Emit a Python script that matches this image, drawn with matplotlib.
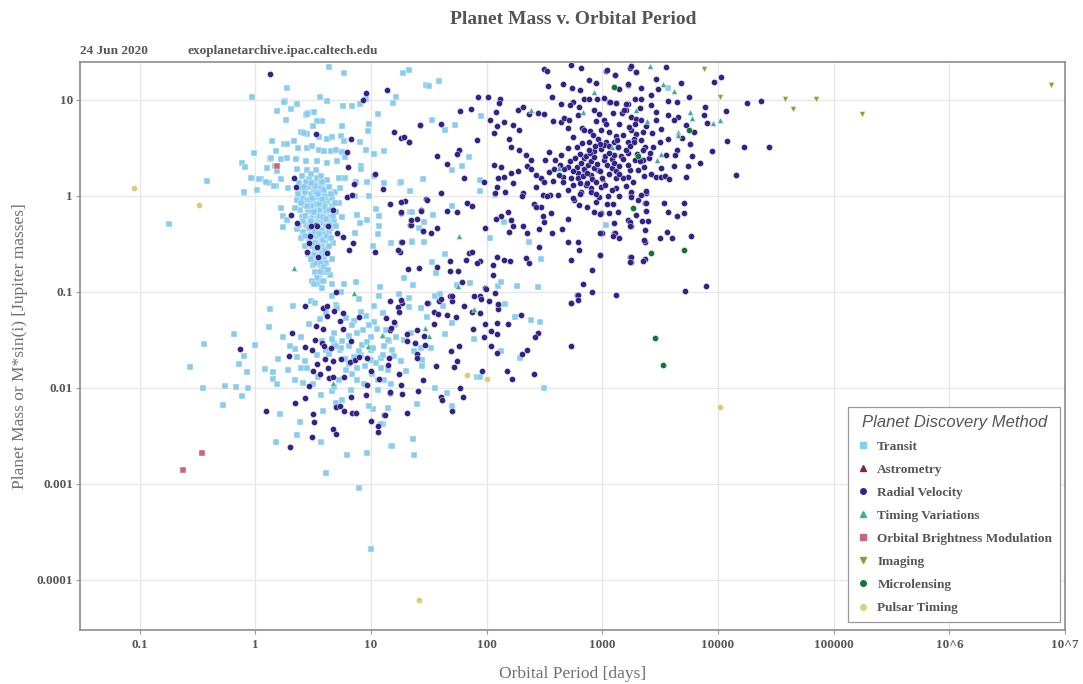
import matplotlib
matplotlib.use("Agg")
import matplotlib.pyplot as plt
from matplotlib.lines import Line2D

# (orbital period [days], mass [Jupiter masses])
transit = [
    (4.3, 22.2), (5.8, 19.2), (19, 19), (21.4, 20.5), (30, 14.3), (1.89, 13.2), (0.94, 10.7),
    (3.6, 10.7), (4.2, 9.8), (1.8, 9.8), (2.27, 9.1), (2.02, 8.1), (1.53, 7.7), (5.7, 8.7),
    (6.9, 8.7), (8.0, 9.0), (9.0, 10.2), (16.5, 10.7), (15.5, 9.2), (11.6, 7.2), (3.2, 7.4),
    (2.86, 7.3), (2.76, 7.0), (1.83, 6.2), (3.8, 6.0), (3.4, 6.0), (3.16, 5.4), (5.66, 5.3),
    (9.7, 5.6), (9.4, 4.75), (2.5, 4.57), (2.8, 4.4), (3.55, 4.1), (4.2, 3.9), (4.6, 4.1),
    (5.5, 4.2), (5.85, 3.7), (2.16, 3.7), (1.77, 3.5), (1.89, 3.5), (1.38, 3.7), (2.36, 3.18),
    (2.8, 3.18), (3.1, 3.3), (3.55, 3.0), (3.9, 2.96), (4.5, 2.96), (5.0, 3.0), (5.66, 2.83),
    (8.0, 3.6), (9.0, 3.0), (10.6, 2.7), (13.0, 2.9), (1.5, 2.96), (0.97, 2.78), (0.76, 2.22),
    (0.82, 1.99), (1.33, 2.4), (1.48, 2.05), (1.68, 2.43), (1.86, 2.5), (2.23, 2.4), (2.73, 2.3),
    (3.44, 2.28), (4.2, 2.19), (5.1, 2.3), (6.0, 2.56), (8.15, 2.05), (1.27, 1.94), (1.55, 1.82),
    (2.28, 1.91), (2.8, 1.84), (3.33, 1.87), (0.94, 1.53), (1.11, 1.49), (1.31, 1.36), (1.5, 1.27),
    (1.66, 1.49), (0.79, 1.08), (1.03, 1.14), (1.93, 1.2), (2.39, 1.36), (2.8, 1.3), (3.44, 1.36),
    (3.8, 1.27), (5.3, 1.53), (5.93, 1.53), (7.4, 1.38), (8.15, 1.9), (9.3, 1.38), (10.6, 1.6),
    (13, 1.36), (17.9, 1.36), (21.8, 1.13), (7.3, 1.0), (9.7, 1.0), (11, 0.73), (7.55, 0.63),
    (8.05, 0.52), (9.3, 0.56), (11.8, 0.49), (21.8, 0.686), (28.9, 0.54), (26, 0.46), (22.5, 0.34),
    (28.9, 0.33), (15, 0.32), (11.4, 0.4), (10.4, 0.3), (7.3, 0.415), (11.8, 0.61), (1.66, 0.755),
    (1.75, 0.47), (2.28, 0.45), (1.75, 0.61), (1.87, 0.56), (1.77, 9.6), (2.04, 8.1), (2.82, 7.1),
    (2.64, 4.5), (1.4, 3.77), (0.77, 2.19), (0.82, 2.02), (1.36, 2.47), (0.91, 1.53), (1.08, 1.49),
    (0.8, 1.09), (1.23, 1.38), (1.45, 1.27), (0.18, 0.51), (0.38, 1.43),
    # hot Jupiter clump
    (2.5, 1.2), (2.6, 0.95), (2.7, 1.1), (2.8, 0.9), (2.9, 1.25), (3.0, 1.05), (3.1, 0.85),
    (3.2, 1.15), (3.3, 0.95), (3.4, 0.75), (3.5, 1.3), (3.6, 0.9), (3.7, 1.05), (3.8, 0.8),
    (3.9, 0.65), (4.0, 1.0), (4.1, 0.7), (4.2, 0.88), (4.4, 0.6), (4.6, 0.78), (4.8, 0.55),
    (5.0, 0.68), (2.45, 0.72), (2.55, 0.6), (2.65, 0.8), (2.75, 0.5), (2.85, 0.68), (2.95, 0.58),
    (3.05, 0.7), (3.15, 0.62), (3.25, 0.52), (3.35, 0.66), (3.45, 0.58), (3.55, 0.48), (3.65, 0.56),
    (3.75, 0.44), (3.85, 0.52), (3.95, 0.4), (4.05, 0.5), (4.3, 0.42), (4.5, 0.46), (3.0, 0.4),
    (3.2, 0.36), (3.4, 0.38), (3.6, 0.33), (3.8, 0.3), (4.0, 0.34), (3.3, 0.28), (3.5, 0.25),
    (3.7, 0.27), (3.9, 0.22), (4.2, 0.26), (3.1, 0.3), (2.9, 0.34), (3.45, 0.21), (3.6, 0.19),
    (3.8, 0.17), (4.1, 0.2), (3.3, 0.16), (3.55, 0.14), (3.9, 0.13), (4.4, 0.15), (3.2, 1.4),
    (3.4, 1.55), (2.9, 1.5), (3.6, 1.2), (3.9, 1.15), (4.3, 1.25), (4.6, 0.95), (2.3, 0.9),
    (2.2, 0.75), (2.35, 1.05), (5.3, 0.85), (5.6, 0.6), (5.2, 0.4), (4.7, 0.32), (2.6, 0.42),
    (2.7, 0.3), (2.5, 0.36), (3.25, 0.82), (3.5, 0.62), (3.15, 0.45), (3.75, 0.36), (4.25, 0.55),
    (2.95, 0.9), (3.65, 0.72), (4.9, 1.1), (2.4, 1.35), (3.05, 1.7), (3.7, 1.6), (4.15, 1.45),
    (3.35, 0.24), (3.7, 0.2), (3.15, 0.19), (4.0, 0.16), (3.45, 0.12), (4.6, 0.22), (2.85, 0.25),
    (2.6, 0.55), (2.4, 0.5), (5.4, 1.2), (4.5, 1.05), (3.95, 0.85), (2.75, 1.4), (2.55, 1.6),
    (3.0, 0.78), (3.1, 0.95), (3.35, 1.1), (3.55, 0.82), (3.75, 0.92), (4.0, 0.76), (4.35, 0.72),
    (3.2, 0.68), (3.4, 0.5), (3.6, 0.62), (3.85, 0.6), (4.1, 0.58), (4.4, 0.5), (3.0, 0.55),
    (3.3, 0.42), (3.55, 0.4), (3.85, 0.35), (4.15, 0.38), (4.5, 0.36), (3.05, 0.34), (3.3, 0.32),
    (3.5, 0.3), (3.75, 0.25), (4.0, 0.27), (4.3, 0.3), (3.2, 0.24), (3.55, 0.23), (3.25, 0.2),
    (3.9, 0.18), (3.6, 0.16), (4.25, 0.17), (3.4, 0.14), (3.75, 0.11), (4.6, 0.12), (3.1, 0.13),
    (2.7, 0.62), (2.8, 0.78), (2.5, 0.85), (2.65, 1.25), (3.5, 1.05), (3.25, 1.28), (4.7, 0.62),
    (5.0, 0.48), (4.85, 0.85), (2.9, 0.46), (2.7, 0.38), (3.05, 0.22), (3.0, 1.35), (3.8, 1.4),
    # lower group
    (3.22, 0.121), (3.88, 0.13), (5.86, 0.121), (7.4, 0.126), (11.9, 0.112), (11.8, 0.09),
    (7.9, 0.084), (4.64, 0.091), (5.5, 0.1), (3.0, 0.081), (3.26, 0.077), (2.12, 0.0717),
    (1.34, 0.066), (4.06, 0.06), (4.96, 0.073), (5.12, 0.068), (10.6, 0.072), (6.05, 0.053),
    (7.15, 0.05), (9.0, 0.056), (10.6, 0.049), (0.66, 0.036), (1.0, 0.028), (2.5, 0.034),
    (4.8, 0.037), (3.75, 0.031), (5.6, 0.0305), (4.8, 0.029), (6.45, 0.0276), (5.4, 0.0245),
    (4.06, 0.025), (3.44, 0.0218), (2.2, 0.0255), (2.31, 0.0208), (2.67, 0.019), (1.58, 0.0198),
    (2.47, 0.0161), (2.82, 0.0161), (0.8, 0.0216), (0.72, 0.0178), (0.84, 0.0147), (1.21, 0.0156),
    (1.41, 0.0147), (1.43, 0.0124), (1.55, 0.0109), (0.355, 0.01), (0.675, 0.0101), (0.86, 0.01),
    (0.77, 0.0083), (0.52, 0.0067), (2.6, 0.0112), (3.18, 0.0109), (3.72, 0.0084), (3.88, 0.0058),
    (1.64, 0.0053), (2.44, 0.0044), (2.27, 0.0032), (1.52, 0.0027), (3.68, 0.0027), (4.06, 0.0013),
    (6.17, 0.002), (9.3, 0.0021), (7.9, 0.00091), (15, 0.0025), (13.9, 0.0062), (12.6, 0.0042),
    (10.3, 0.006), (4.96, 0.007), (5.66, 0.0075), (4.64, 0.0092), (4.8, 0.0103), (9.7, 0.0065),
    (9.9, 0.0196), (11, 0.018), (14, 0.0154), (11.4, 0.0121), (13, 0.0121), (7.55, 0.0121),
    (6.8, 0.014), (6.1, 0.0154), (6.45, 0.0178), (7.15, 0.021), (8.15, 0.0218), (9.9, 0.0245),
    (12.1, 0.0205), (14.3, 0.031), (15.3, 0.025), (9.9, 0.034), (11.2, 0.041), (8.6, 0.04),
    (7.55, 0.037), (5.5, 0.026), (4.35, 0.0226), (4.64, 0.032), (5.0, 0.0275), (0.27, 0.0164),
    (0.36, 0.0285), (0.55, 0.0105), (10, 0.00021),
    (8.3, 0.028), (9.2, 0.03), (10.5, 0.026), (12.8, 0.022), (8.8, 0.017), (10.2, 0.014),
    (12.2, 0.016), (7.9, 0.024), (6.9, 0.045), (8.2, 0.062), (9.6, 0.045), (12.6, 0.06),
    (13.5, 0.04), (16.2, 0.045), (6.4, 0.035), (5.9, 0.02), (7.6, 0.016), (8.7, 0.011),
    (11.5, 0.0095), (14.8, 0.011), (6.7, 0.0095), (5.3, 0.012), (3.5, 0.013), (2.2, 0.012),
    (1.9, 0.0155), (2.0, 0.027), (1.75, 0.034), (1.3, 0.043), (2.9, 0.046), (3.6, 0.052),
    (11.9, 0.112), (23.2, 0.118), (17.5, 0.095), (21.2, 0.086), (21.3, 0.07), (55, 0.118),
    (71.5, 0.125), (125, 0.116), (133, 0.128), (183, 0.116), (276, 0.112), (35.8, 0.091),
    (39.4, 0.095), (42, 0.072), (27, 0.068), (30.7, 0.055), (50.5, 0.047), (44, 0.036),
    (22, 0.0375), (19.4, 0.0316), (16.4, 0.034), (13.9, 0.0316), (13, 0.027), (27, 0.026),
    (32.7, 0.026), (23.7, 0.024), (15.9, 0.0216), (18, 0.019), (27.5, 0.0196), (27.8, 0.0167),
    (20, 0.015), (82, 0.013), (87, 0.013), (78, 0.032), (133, 0.024), (195, 0.0205), (244, 0.051),
    (291, 0.048), (177, 0.0545), (145, 0.074), (35.8, 0.0099), (45, 0.0089), (50, 0.0064),
    (24.9, 0.0068), (13.9, 0.0062), (12.3, 0.0042), (15.3, 0.0025), (23.2, 0.0029), (23.4, 0.002),
    (310, 0.01),
    # longer periods
    (31.8, 14), (38.9, 15.8), (89, 6.8), (33.9, 6.1), (43.6, 4.8), (53, 5.5), (71, 2.53),
    (61, 2.05), (50.5, 1.87), (28.4, 1.5), (88, 1.47), (88, 1.13), (117, 1.02), (49.8, 0.79),
    (34.6, 0.634), (18, 1.38), (22.5, 0.686), (22.5, 0.334), (33.5, 0.204), (36.5, 0.159),
    (43.6, 0.249), (72, 0.125), (55, 0.118), (19.4, 0.139), (107, 0.36), (142, 0.54),
    (232, 0.334), (297, 0.22), (3710, 13.2), (1080, 0.5),
]

astrometry = [(1016, 1.5)]

radial_velocity = [
    (1.34, 18.7), (9.1, 11.8), (8.5, 10), (13.7, 12.7), (26.6, 5.5), (15.9, 4.6), (18.3, 4.05),
    (21.5, 3.6), (3.33, 4.4), (6.7, 3.95), (6.17, 2.83), (6.35, 1.99), (7.15, 1.32), (10.8, 1.68),
    (12.7, 1.17), (14.6, 0.825), (19.6, 0.89), (18.1, 0.67), (27, 0.715), (30, 0.92), (21.8, 0.5),
    (24.8, 0.57), (28.2, 0.435), (18.3, 0.334), (17.9, 0.263), (10.9, 0.263), (7.05, 0.326),
    (6.45, 0.274), (6.17, 0.98), (6.9, 1.02), (2.16, 1.53), (2.23, 1.23), (2.02, 0.634),
    (2.27, 0.52), (3.33, 0.5), (4.26, 0.487), (5.12, 0.41), (5.77, 0.377), (4.73, 0.715),
    (2.97, 0.383), (2.91, 0.326), (2.82, 0.257), (3.44, 0.292), (4.2, 0.253), (3.49, 0.233),
    (3.0, 0.49), (3.4, 0.48),
    # lower group
    (2.67, 0.0717), (2.06, 0.0375), (3.88, 0.068), (4.15, 0.0717), (4.97, 0.1), (4.2, 0.056),
    (4.8, 0.063), (5.4, 0.05), (5.74, 0.06), (3.35, 0.044), (3.85, 0.0412), (5.7, 0.0412),
    (7.9, 0.0545), (6.7, 0.0305), (3.28, 0.0316), (3.8, 0.0292), (2.67, 0.0264), (3.07, 0.025),
    (3.93, 0.0273), (4.5, 0.026), (1.96, 0.0213), (0.74, 0.0255), (3.4, 0.0178), (3.98, 0.02),
    (4.7, 0.019), (5.5, 0.0198), (6.6, 0.0184), (7.25, 0.0196), (7.9, 0.0208), (9.2, 0.0205),
    (3.16, 0.015), (3.63, 0.014), (4.27, 0.016), (4.37, 0.0127), (4.73, 0.013), (5.86, 0.013),
    (2.91, 0.0105), (2.67, 0.0078), (2.19, 0.007), (1.23, 0.0057), (3.18, 0.0053), (3.22, 0.0044),
    (3.07, 0.0031), (1.98, 0.0024), (4.73, 0.0037), (4.96, 0.0033), (4.96, 0.0063), (5.37, 0.0064),
    (5.86, 0.0058), (6.8, 0.0055), (7.4, 0.0055), (9.0, 0.0085), (6.7, 0.0081), (9.2, 0.0107),
    (10, 0.0045), (11.4, 0.004), (11.6, 0.0035), (13, 0.0052), (14.7, 0.0088), (11.8, 0.0123),
    (10, 0.0148), (13.9, 0.0174), (14.3, 0.0205), (14.7, 0.04), (14.6, 0.081),
    (97, 0.109), (119, 0.098), (88, 0.091), (104, 0.08), (125, 0.073), (125, 0.066), (75, 0.062),
    (88, 0.06), (48.6, 0.091), (49.8, 0.081), (38.5, 0.08), (31.2, 0.076), (18.7, 0.077),
    (17.1, 0.07), (64, 0.072), (35.3, 0.062), (38, 0.0585), (45.7, 0.058), (54, 0.055),
    (17.3, 0.061), (13.4, 0.053), (15.9, 0.049), (15, 0.042), (20.6, 0.036), (25.2, 0.04),
    (28.9, 0.035), (34.8, 0.0464), (76, 0.041), (97, 0.046), (109, 0.039), (122, 0.047),
    (152, 0.046), (122, 0.036), (199, 0.058), (276, 0.0375), (262, 0.034), (221, 0.0245),
    (200, 0.0226), (109, 0.0274), (122, 0.023), (95, 0.034), (58, 0.0276), (49, 0.0244),
    (55.7, 0.019), (52, 0.0164), (36.4, 0.017), (28.4, 0.0121), (24.9, 0.0226), (29, 0.028),
    (20.3, 0.0305), (24, 0.029), (25.2, 0.0205), (17.5, 0.0139), (18, 0.0107), (18.7, 0.0087),
    (14.7, 0.009), (13.1, 0.0052), (20.3, 0.0055), (25.6, 0.0092), (40, 0.008), (41.4, 0.0074),
    (50.5, 0.0058), (59, 0.01), (63, 0.008), (91, 0.015), (150, 0.015), (166, 0.0124),
    (259, 0.014), (540, 0.027), (540, 0.076), (605, 0.093),
    # main cloud
    (310, 21), (331, 20), (535, 22.8), (658, 21.4), (342, 14.1), (454, 14.5), (547, 13.4),
    (636, 12.7), (760, 16.1), (890, 14.9), (1080, 20.2), (1290, 18.2), (1720, 21.4), (1970, 19.7),
    (1670, 14.3), (84, 10.8), (103, 10.8), (130, 10.2), (127, 9.2), (58.5, 7.7), (73, 8.1),
    (120, 7.55), (107, 6.1), (122, 5.3), (142, 5.85), (115, 4.5), (155, 3.9), (168, 5.5),
    (190, 4.8), (186, 7.9), (205, 8.5), (230, 7.2), (276, 7.3), (310, 7.1), (368, 10.8), (372, 6.0),
    (438, 5.85), (468, 6.5), (510, 6.2), (610, 6.9), (690, 10.2), (774, 10.2), (895, 10.2),
    (436, 9.0), (560, 9.6), (520, 8.8), (626, 8.5), (855, 7.9), (940, 7.1), (1040, 6.2),
    (890, 5.95), (500, 5.1), (555, 4.15), (670, 5.15), (780, 4.7), (1150, 9.4), (1320, 9.2),
    (1230, 7.3), (1470, 7.3), (1650, 9.0), (1600, 7.9), (1780, 6.7), (1970, 6.3), (1780, 4.87),
    (1970, 4.4), (2230, 4.67), (1670, 3.67), (1080, 5.6), (910, 3.9), (980, 4.87), (1080, 3.67),
    (1320, 4.2), (1250, 3.67), (770, 3.67), (670, 3.55), (855, 2.9), (980, 3.06), (1040, 2.37),
    (1360, 3.2), (1450, 2.6), (1200, 2.4), (1670, 2.78), (1900, 2.37), (2250, 2.37), (2020, 1.87),
    (1670, 1.57), (2300, 1.6), (2400, 1.08), (1780, 1.02), (2020, 0.91), (2340, 0.84), (1670, 0.56),
    (1780, 0.48), (2340, 0.443), (2340, 0.334), (1720, 0.233), (1780, 0.207), (2340, 0.22),
    (1320, 0.093), (1000, 0.41), (1250, 0.415), (960, 0.243), (815, 0.167), (680, 0.121),
    (815, 0.1), (612, 0.093), (612, 0.083), (535, 0.076), (630, 0.274), (535, 0.216), (612, 0.334),
    (500, 0.334), (450, 0.45), (366, 0.41), (285, 0.45), (312, 0.53), (360, 0.66), (305, 0.62),
    (500, 0.57), (570, 0.91), (630, 0.81), (740, 0.76), (855, 0.686), (890, 0.87), (940, 0.98),
    (1100, 0.825), (980, 0.66), (660, 1.1), (790, 1.2), (500, 1.15), (411, 1.02), (350, 1.02),
    (305, 1.02), (258, 0.825), (297, 0.76), (348, 1.79), (297, 1.53), (268, 1.25), (375, 1.42),
    (454, 1.59), (500, 2.02), (612, 1.72), (700, 1.87), (790, 1.65), (910, 1.87), (390, 2.37),
    (438, 2.67), (500, 3.14), (600, 3.2), (700, 2.47), (348, 2.83), (320, 2.37), (240, 2.37),
    (218, 2.67), (190, 3.0), (163, 3.2), (222, 2.05), (240, 1.9), (268, 1.65), (316, 1.38),
    (186, 1.8), (162, 1.72), (142, 1.59), (125, 1.53), (134, 2.02), (115, 2.1), (122, 1.25),
    (117, 1.08), (144, 1.1), (168, 1.36), (205, 1.08), (202, 1.0), (265, 0.76), (330, 1.0),
    (152, 0.686), (162, 0.56), (168, 0.48), (205, 0.48), (133, 0.61), (120, 0.57), (97, 0.46),
    (157, 0.425), (225, 0.41), (285, 0.296), (218, 0.225), (230, 0.2), (160, 0.21), (122, 0.233),
    (113, 0.191), (88, 0.21), (71, 0.253), (75, 0.263), (83, 0.2), (66, 0.216), (57, 0.163),
    (48.6, 0.21), (48.6, 0.163), (37.5, 0.18), (40, 1.07), (68, 0.84), (75, 0.79), (55.7, 0.686),
    (45.7, 0.7), (37.5, 0.46), (32.7, 0.415), (28.4, 0.435), (30.7, 0.91), (27, 0.7), (22, 0.5),
    (22, 0.56), (18, 0.686), (18, 0.87), (19.4, 4.08), (21.4, 3.6), (26.6, 5.5), (40, 5.6),
    (83, 3.83), (95, 1.39), (58, 3.0), (55.7, 2.72), (45.4, 2.15), (37.5, 2.57), (64, 1.53),
    (21, 0.172), (26, 0.177), (61.6, 0.128), (113, 0.15), (142, 0.216), (78, 0.091), (89, 0.084),
    (98, 0.108), (125, 0.075), (50.5, 0.091), (40, 0.084), (30.7, 0.077), (18, 0.083),
    (18.7, 0.334), (17.1, 0.274),
    (1090, 20.4), (1290, 18.2), (1780, 22.6), (1970, 19.7), (3540, 21.8), (2930, 16.5),
    (4820, 14.9), (9250, 15.3), (10700, 17.3), (1670, 14.5), (1380, 13), (2170, 13.2),
    (3040, 12.9), (2610, 11.3), (1040, 10.4), (1170, 9.5), (1320, 9.2), (1600, 9.1), (1900, 10.2),
    (2170, 10.2), (3660, 9.8), (4400, 9.5), (5610, 10.6), (7650, 8.5), (2610, 8.9), (1550, 7.9),
    (2930, 7.45), (3660, 7.0), (4470, 6.7), (2170, 6.1), (4200, 6.1), (7570, 7.0), (11700, 7.7),
    (8100, 5.8), (6150, 4.6), (5300, 5.5), (4930, 4.0), (5700, 3.48), (3660, 3.93), (3140, 3.67),
    (1870, 3.93), (2170, 3.83), (2340, 3.26), (2720, 3.2), (1600, 3.0), (1870, 3.6), (1360, 3.2),
    (1040, 3.4), (1250, 2.67), (4380, 3.0), (5950, 2.57), (12000, 3.73), (16800, 3.26),
    (27800, 3.26), (8900, 2.96), (7000, 2.19), (5450, 2.05), (4250, 2.67), (3540, 2.67),
    (2550, 2.47), (2130, 2.28), (1720, 1.87), (2300, 2.02), (2660, 1.68), (2930, 1.57),
    (3240, 1.57), (3450, 1.6), (3800, 1.49), (4180, 2.05), (3240, 1.95), (5320, 1.57),
    (14300, 1.65), (1830, 1.41), (1500, 1.53), (1320, 1.55), (970, 1.25), (1320, 1.22),
    (1600, 1.27), (1780, 1.1), (2140, 1.02), (2400, 1.12), (1110, 1.0), (1230, 0.82), (1780, 0.98),
    (2400, 0.84), (3400, 0.84), (5060, 0.84), (3660, 0.686), (4400, 0.62), (5060, 0.67),
    (2400, 0.7), (1970, 0.634), (1360, 0.686), (950, 0.65), (1150, 0.66), (2200, 0.55),
    (2460, 0.55), (1720, 0.54), (1720, 0.48), (1250, 0.52), (1290, 0.41), (1230, 0.38),
    (1380, 0.36), (960, 0.41), (3600, 0.425), (3170, 0.36), (4000, 0.36), (5840, 0.383),
    (2300, 0.35), (960, 0.243), (1780, 0.233), (1750, 0.204), (2230, 0.21), (5200, 0.103),
    (7800, 0.114), (17900, 9.3), (23300, 9.8),
    # dense centre of the cloud
    (600, 2.0), (650, 2.2), (700, 1.9), (750, 2.1), (800, 2.3), (850, 1.95), (900, 2.15),
    (950, 1.8), (560, 1.8), (620, 1.55), (680, 1.6), (740, 1.75), (820, 1.5), (880, 1.4),
    (520, 2.3), (580, 2.5), (640, 2.7), (720, 2.6), (780, 2.8), (840, 2.55), (470, 1.9),
    (430, 2.1), (560, 1.3), (640, 1.35), (720, 1.3), (800, 1.1), (460, 1.4), (1000, 1.55),
    (1150, 1.7), (1100, 2.1), (1200, 1.95), (1300, 1.8), (1400, 1.7), (1050, 2.6), (1150, 2.8),
    (1250, 2.2), (1400, 2.05), (950, 3.5), (860, 3.3), (760, 3.0), (1150, 3.3), (1350, 3.8),
    (1500, 4.3), (1700, 5.2), (1400, 5.6), (1150, 4.6), (830, 4.3), (700, 4.9), (1900, 5.6),
    (2100, 8.2), (2400, 5.3), (2700, 4.5), (3200, 5.0), (2900, 6.2), (2000, 2.7), (2600, 2.8),
    (880, 1.05), (740, 1.35), (540, 1.55), (1050, 1.3), (1200, 1.15), (1400, 1.0), (420, 1.65),
    (380, 1.9), (640, 1.05), (560, 0.95), (1500, 2.4), (1650, 2.1), (1750, 3.3), (2250, 3.0),
]

timing_variations = [
    (2.18, 0.178), (2570, 22.6), (3320, 14.6), (4170, 12.4), (1960, 7.9), (2450, 6.04),
    (5720, 7.5), (6000, 6.45), (9060, 5.7), (10500, 6.2), (4470, 4.6), (4470, 4.3), (3240, 2.72),
    (2950, 2.35), (242, 7.9), (682, 7.4), (855, 12), (426, 1.94), (58, 0.386), (57, 0.114),
    (77, 0.066), (29, 0.042), (32, 0.035), (12.6, 0.0356), (7.15, 0.097), (4.73, 0.0112),
    (9.45, 0.0274), (12.4, 0.0355), (1200, 3.26),
]

brightness_modulation = [(1.55, 2.05), (0.238, 0.0014), (0.348, 0.0021)]

imaging = [
    (7570, 21.0), (10350, 10.6), (38300, 10.1), (44900, 8.06), (71000, 10.1), (177000, 7.1),
    (7600000, 14.2),
]

microlensing = [
    (1250, 13.6), (5610, 4.9), (2030, 2.63), (1840, 0.74), (2610, 0.255), (5080, 0.27),
    (2850, 0.033), (3340, 0.0174),
]

pulsar_timing = [
    (0.0895, 1.21), (0.327, 0.805), (67, 0.0136), (100, 0.0125), (10400, 0.0063), (25.8, 6.2e-5),
]

methods = ["Transit", "Astrometry", "Radial Velocity", "Timing Variations",
           "Orbital Brightness Modulation", "Imaging", "Microlensing", "Pulsar Timing"]
series = [transit, astrometry, radial_velocity, timing_variations,
          brightness_modulation, imaging, microlensing, pulsar_timing]
colors = ["#88CCEE", "#882255", "#332288", "#44AA99", "#CC6677", "#999933", "#117733", "#DDCC77"]
markers = ["s", "^", "o", "^", "s", "v", "o", "o"]

x_ticks = [0.1, 1, 10, 100, 1000, 10000, 100000, 1e6, 1e7]
x_labels = ["0.1", "1", "10", "100", "1000", "10000", "100000", "10^6", "10^7"]
y_ticks = [0.0001, 0.001, 0.01, 0.1, 1, 10]
y_labels = ["0.0001", "0.001", "0.01", "0.1", "1", "10"]

serif = "Liberation Serif"
text_color = "#555555"

fig = plt.figure(figsize=(10.83, 6.84), dpi=100)
ax = fig.add_axes([0.0739, 0.0789, 0.9095, 0.8305])

for pts, c, m in zip(series, colors, markers):
    xs = [p[0] for p in pts]
    ys = [p[1] for p in pts]
    size = 20 if m in ("s", "o") else 18
    ax.scatter(xs, ys, s=size, c=c, marker=m, edgecolors="white", linewidths=0.3, zorder=3)

ax.set_xscale("log")
ax.set_yscale("log")
ax.set_xlim(0.0305, 1.0e7)
ax.set_ylim(3.0e-5, 24.8)

ax.set_xticks(x_ticks)
ax.set_xticklabels(x_labels)
ax.set_yticks(y_ticks)
ax.set_yticklabels(y_labels)
ax.minorticks_off()
ax.tick_params(axis="both", length=3, width=0.8, color="#999999")
ax.tick_params(axis="y", pad=2)
ax.tick_params(axis="x", pad=3.5)
for lbl in ax.get_xticklabels() + ax.get_yticklabels():
    lbl.set_fontfamily(serif)
    lbl.set_fontweight("bold")
    lbl.set_fontsize(9.5)
    lbl.set_color(text_color)

ax.grid(True, color="#e6e6e6", linewidth=0.9, zorder=0)
ax.set_axisbelow(True)
for sp in ax.spines.values():
    sp.set_color("#8c8c8c")
    sp.set_linewidth(1.2)

ax.set_xlabel("Orbital Period [days]", fontfamily=serif, fontsize=12.5, color="#707070", labelpad=10.5)
ax.set_ylabel("Planet Mass or M*sin(i) [Jupiter masses]", fontfamily=serif, fontsize=12.5,
              color="#707070", labelpad=6)

fig.text(0.529, 0.972, "Planet Mass v. Orbital Period", ha="center", va="center",
         fontfamily=serif, fontweight="bold", fontsize=14, color=text_color)
fig.text(0.0739, 0.926, "24 Jun 2020", ha="left", va="center",
         fontfamily=serif, fontweight="bold", fontsize=9.5, color=text_color)
fig.text(0.1735, 0.926, "exoplanetarchive.ipac.caltech.edu", ha="left", va="center",
         fontfamily=serif, fontweight="bold", fontsize=9.5, color=text_color)

handles = [Line2D([0], [0], marker=m, color="w", markerfacecolor=c, markeredgecolor=c,
                  markersize=4, linestyle="None", label=lab)
           for m, c, lab in zip(markers, colors, methods)]
leg = ax.legend(handles=handles, loc="lower right", bbox_to_anchor=(0.995, 0.014),
                borderaxespad=0, title="Planet Discovery Method", fancybox=False, framealpha=1,
                edgecolor="#999999", borderpad=0.6, labelspacing=0.82, handletextpad=0.6,
                handlelength=1.0, prop={"family": serif, "weight": "bold", "size": 9.5})
leg.get_title().set_fontfamily("Liberation Sans")
leg.get_title().set_fontstyle("italic")
leg.get_title().set_fontsize(12)
leg.get_title().set_color(text_color)
for t in leg.get_texts():
    t.set_color(text_color)
leg.get_frame().set_linewidth(0.9)
leg.set_zorder(5)

fig.savefig("out.png", dpi=100)
